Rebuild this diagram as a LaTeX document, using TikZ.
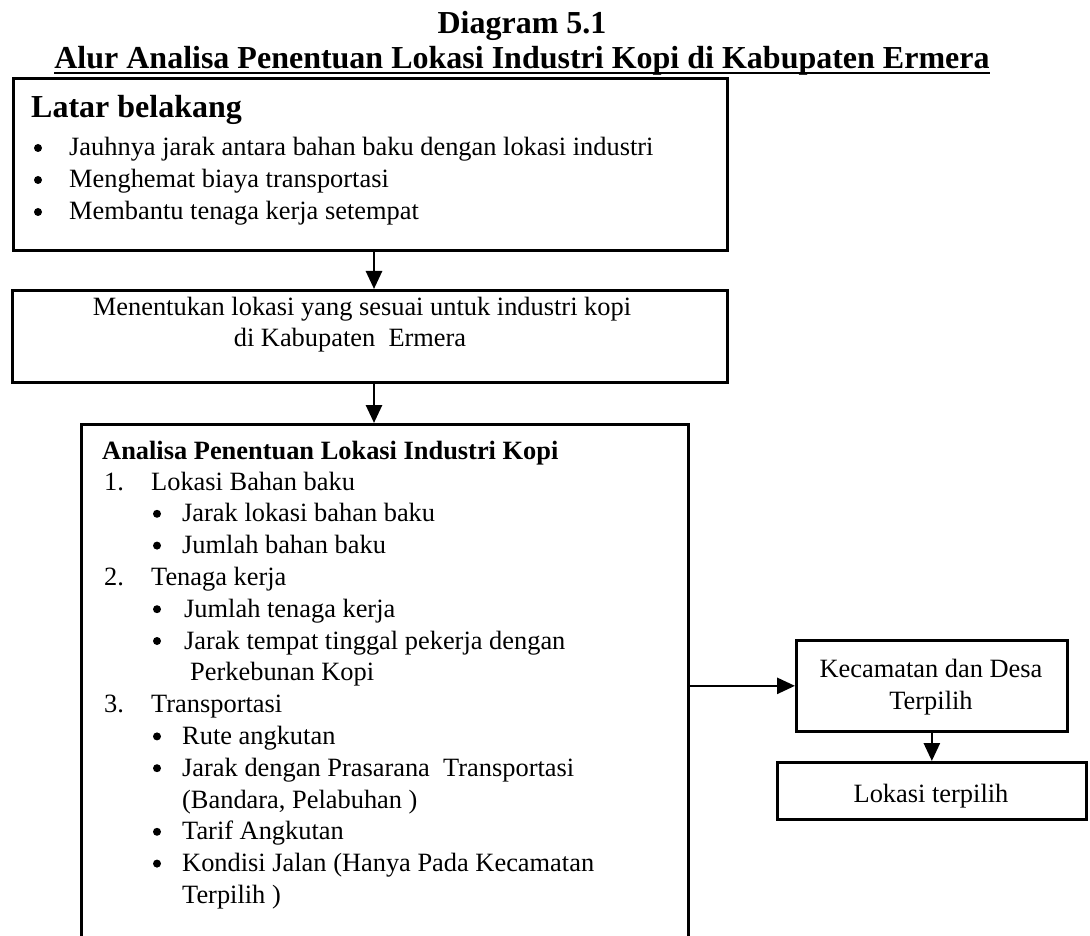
\documentclass[tikz,border=0pt]{standalone}
\usepackage{fontspec}
\setmainfont{Liberation Serif}
\usetikzlibrary{arrows.meta}
\begin{document}
\begin{tikzpicture}[x=1pt,y=-1pt,
  box/.style={draw=black, line width=2.7pt, inner sep=0pt},
  txt/.style={inner sep=0pt, font=\fontsize{26.4}{31.8}\selectfont},
  boldtxt/.style={inner sep=0pt, font=\fontsize{26.4}{31.8}\selectfont\bfseries},
  big/.style={inner sep=0pt, font=\fontsize{32}{36}\selectfont\bfseries},
  dot/.style={circle, fill=black, inner sep=0pt, minimum size=8pt},
  conn/.style={line width=2.7pt, -{Triangle[length=18pt,width=16pt]}},
  uline/.style={line width=2pt}]
\fill[white] (0,0) rectangle (1090,936);
\useasboundingbox (0,0) rectangle (1090,936);
\clip (0,0) rectangle (1090,936);

% titles
\node[big, anchor=base] (t1) at (522,34) {Diagram 5.1};
\node[big, anchor=base] (t2) at (522,69) {Alur Analisa Penentuan Lokasi Industri Kopi di Kabupaten Ermera};
\draw[uline] ([yshift=-4pt]t2.base west) -- ([yshift=-4pt]t2.base east);

% box 1
\node[box, anchor=north west, minimum width=714pt, minimum height=172pt] (b1) at (12,77) {};
\node[big, anchor=base west] (lb) at (31,118) {Latar belakang};
\node[dot] (bA1) at (38,148) {};
\node[txt, anchor=base west] (lA1) at (69,156) {Jauhnya jarak antara bahan baku dengan lokasi industri};
\node[dot] (bA2) at (38,180) {};
\node[txt, anchor=base west] (lA2) at (69,188) {Menghemat biaya transportasi};
\node[dot] (bA3) at (38,212) {};
\node[txt, anchor=base west] (lA3) at (69,220) {Membantu tenaga kerja setempat};

% box 2
\node[box, anchor=north west, minimum width=715pt, minimum height=92pt] (b2) at (11,289) {};
\node[txt, anchor=base] (lB1) at (362,316) {Menentukan lokasi yang sesuai untuk industri kopi};
\node[txt, anchor=base] (lB2) at (350,346) {di Kabupaten\ \ Ermera};

% box 3
\node[box, anchor=north west, minimum width=607pt, minimum height=560pt] (b3) at (80,423) {};
\node[boldtxt, anchor=base west] (lC0) at (102,459) {Analisa Penentuan Lokasi Industri Kopi};
\node[txt, anchor=base west] (n1) at (104,490) {1.};
\node[txt, anchor=base west] (lC1) at (151,490) {Lokasi Bahan baku};
\node[dot] (bC1) at (157,513.8) {};
\node[txt, anchor=base west] (lC2) at (182,521.8) {Jarak lokasi bahan baku};
\node[dot] (bC2) at (157,545.6) {};
\node[txt, anchor=base west] (lC3) at (182,553.6) {Jumlah bahan baku};
\node[txt, anchor=base west] (n2) at (104,585.4) {2.};
\node[txt, anchor=base west] (lC4) at (151,585.4) {Tenaga kerja};
\node[dot] (bC3) at (157,609.2) {};
\node[txt, anchor=base west] (lC5) at (184,617.2) {Jumlah tenaga kerja};
\node[dot] (bC4) at (157,641) {};
\node[txt, anchor=base west] (lC6) at (184,649) {Jarak tempat tinggal pekerja dengan};
\node[txt, anchor=base west] (lC7) at (190,680.8) {Perkebunan Kopi};
\node[txt, anchor=base west] (n3) at (104,712.6) {3.};
\node[txt, anchor=base west] (lC8) at (151,712.6) {Transportasi};
\node[dot] (bC5) at (157,736.4) {};
\node[txt, anchor=base west] (lC9) at (182,744.4) {Rute angkutan};
\node[dot] (bC6) at (157,768.2) {};
\node[txt, anchor=base west] (lC10) at (182,776.2) {Jarak dengan Prasarana\ \ Transportasi};
\node[txt, anchor=base west] (lC11) at (182,808) {(Bandara, Pelabuhan )};
\node[dot] (bC7) at (157,831.8) {};
\node[txt, anchor=base west] (lC12) at (182,839.8) {Tarif Angkutan};
\node[dot] (bC8) at (157,863.6) {};
\node[txt, anchor=base west] (lC13) at (182,871.6) {Kondisi Jalan (Hanya Pada Kecamatan};
\node[txt, anchor=base west] (lC14) at (182,903.4) {Terpilih )};

% box 4
\node[box, anchor=north west, minimum width=271pt, minimum height=91pt] (b4) at (795,639) {};
\node[txt, anchor=base] (lD1) at (931,677) {Kecamatan dan Desa};
\node[txt, anchor=base] (lD2) at (931,709) {Terpilih};

% box 5
\node[box, anchor=north west, minimum width=309pt, minimum height=57pt] (b5) at (776,761) {};
\node[txt, anchor=base] (lE1) at (931,802) {Lokasi terpilih};

% connectors
\coordinate (ax) at (374,0);
\draw[conn] (b1.south -| ax) -- (b2.north -| ax);
\draw[conn] (b2.south -| ax) -- (b3.north -| ax);
\draw[conn] (b3.east |- b4.west) -- (b4.west);
\draw[conn] (b4.south) -- (b5.north);
\end{tikzpicture}
\end{document}
